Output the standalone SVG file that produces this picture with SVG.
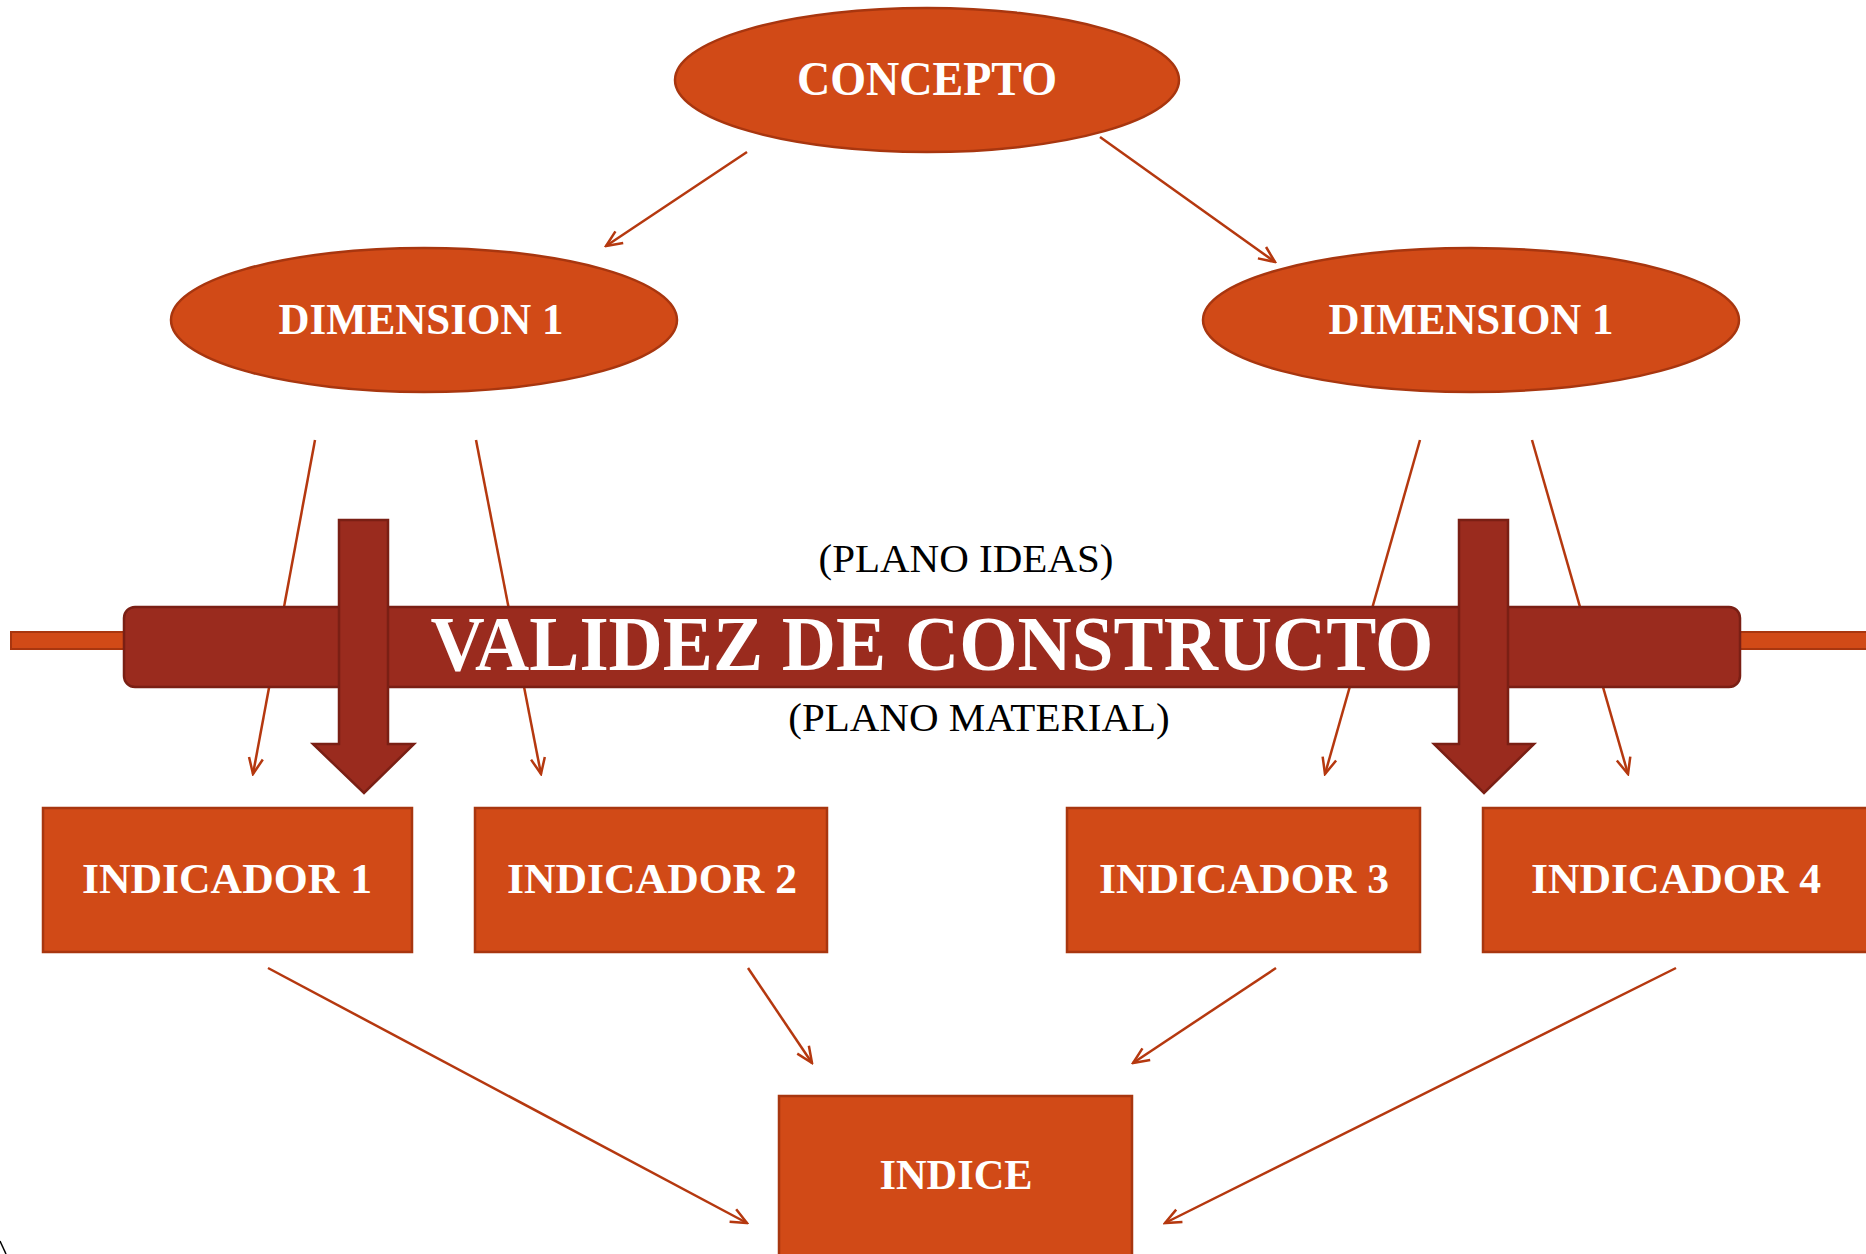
<svg xmlns="http://www.w3.org/2000/svg" width="1866" height="1254" viewBox="0 0 1866 1254">
<style>
.node{fill:#D14A17;stroke:#A8360F;stroke-width:2.5}
.lbl{font-family:"Liberation Serif","Times New Roman",serif;font-weight:bold;fill:#FFFFFF;text-anchor:middle}
.conn{stroke:#B5380F;stroke-width:2.5;fill:none}
.bar{fill:#9A2B1E;stroke:#7A1F14;stroke-width:2.5}
.plano{font-family:"Liberation Serif","Times New Roman",serif;font-size:41px;fill:#000000;text-anchor:middle}
</style>
<defs>
<marker id="ah" viewBox="0 0 20 20" refX="18" refY="10" markerWidth="20" markerHeight="20" markerUnits="userSpaceOnUse" orient="auto">
<path d="M2,3 L18,10 L2,17" fill="none" stroke="#B5380F" stroke-width="2.5"/>
</marker>
</defs>
<rect width="1866" height="1254" fill="#FFFFFF"/>

<g id="connectors">
<line class="conn" x1="747" y1="152" x2="606" y2="246" marker-end="url(#ah)"/>
<line class="conn" x1="1100" y1="137" x2="1275" y2="262" marker-end="url(#ah)"/>
<line class="conn" x1="315" y1="440" x2="253" y2="774" marker-end="url(#ah)"/>
<line class="conn" x1="476" y1="440" x2="541" y2="774" marker-end="url(#ah)"/>
<line class="conn" x1="1420" y1="440" x2="1325" y2="774" marker-end="url(#ah)"/>
<line class="conn" x1="1532" y1="440" x2="1628" y2="774" marker-end="url(#ah)"/>
<line class="conn" x1="268" y1="968" x2="747" y2="1223" marker-end="url(#ah)"/>
<line class="conn" x1="748" y1="968" x2="812" y2="1063" marker-end="url(#ah)"/>
<line class="conn" x1="1276" y1="968" x2="1133" y2="1063" marker-end="url(#ah)"/>
<line class="conn" x1="1676" y1="968" x2="1165" y2="1223" marker-end="url(#ah)"/>
</g>

<g id="validez">
<rect x="11" y="632" width="116" height="17" fill="#D14A17" stroke="#A8360F" stroke-width="2"/>
<rect x="1737" y="632" width="135" height="17" fill="#D14A17" stroke="#A8360F" stroke-width="2"/>
<rect class="bar" x="124" y="607" width="1616" height="80" rx="11" ry="11"/>
<text x="932" y="670" font-family="'Liberation Serif','Times New Roman',serif" font-weight="bold" font-size="78" fill="#FFFFFF" text-anchor="middle" textLength="1003" lengthAdjust="spacingAndGlyphs">VALIDEZ DE CONSTRUCTO</text>
</g>

<g id="plano-ideas"><text class="plano" x="966" y="572">(PLANO IDEAS)</text></g>
<g id="plano-material"><text class="plano" x="979" y="731">(PLANO MATERIAL)</text></g>

<g id="block-arrow-left">
<path class="bar" d="M339,520 L388,520 L388,744 L414,744 L364,793 L313,744 L339,744 Z"/>
</g>
<g id="block-arrow-right">
<path class="bar" d="M1459,520 L1508,520 L1508,744 L1534,744 L1484,793 L1434,744 L1459,744 Z"/>
</g>

<g id="concepto">
<ellipse class="node" cx="927" cy="80" rx="252" ry="72"/>
<text class="lbl" x="927" y="95" font-size="48" textLength="260" lengthAdjust="spacingAndGlyphs">CONCEPTO</text>
</g>
<g id="dimension-left">
<ellipse class="node" cx="424" cy="320" rx="253" ry="72"/>
<text class="lbl" x="421" y="334" font-size="44" textLength="285" lengthAdjust="spacingAndGlyphs">DIMENSION 1</text>
</g>
<g id="dimension-right">
<ellipse class="node" cx="1471" cy="320" rx="268" ry="72"/>
<text class="lbl" x="1471" y="334" font-size="44" textLength="285" lengthAdjust="spacingAndGlyphs">DIMENSION 1</text>
</g>

<g id="indicador-1">
<rect class="node" x="43" y="808" width="369" height="144"/>
<text class="lbl" x="227" y="893" font-size="42" textLength="290" lengthAdjust="spacingAndGlyphs">INDICADOR 1</text>
</g>
<g id="indicador-2">
<rect class="node" x="475" y="808" width="352" height="144"/>
<text class="lbl" x="652" y="893" font-size="42" textLength="290" lengthAdjust="spacingAndGlyphs">INDICADOR 2</text>
</g>
<g id="indicador-3">
<rect class="node" x="1067" y="808" width="353" height="144"/>
<text class="lbl" x="1244" y="893" font-size="42" textLength="290" lengthAdjust="spacingAndGlyphs">INDICADOR 3</text>
</g>
<g id="indicador-4">
<rect class="node" x="1483" y="808" width="400" height="144"/>
<text class="lbl" x="1676" y="893" font-size="42" textLength="290" lengthAdjust="spacingAndGlyphs">INDICADOR 4</text>
</g>
<g id="indice">
<rect class="node" x="779" y="1096" width="353" height="180"/>
<text class="lbl" x="956" y="1189" font-size="42" textLength="153" lengthAdjust="spacingAndGlyphs">INDICE</text>
</g>

<path d="M0,1241 L6,1254" stroke="#000000" stroke-width="1.5" fill="none"/>
</svg>
